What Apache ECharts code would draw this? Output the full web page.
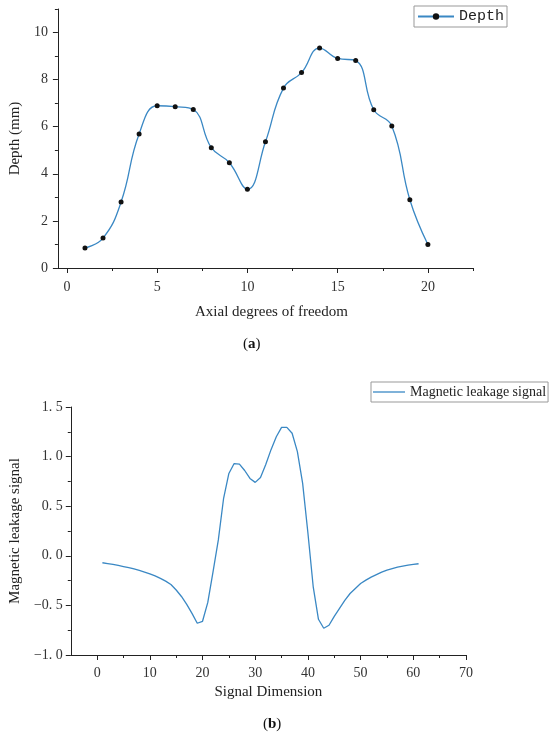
<!DOCTYPE html>
<html>
<head>
<meta charset="utf-8">
<script src="https://cdn.jsdelivr.net/npm/echarts@6/dist/echarts.min.js"></script>
<style>html,body{margin:0;padding:0;background:#fff}#c{width:550px;height:739px}</style>
</head>
<body>
<div id="c"></div>
<script>
// Panel (a): depth at each axial degree of freedom
const depthX = [1,2,3,4,5,6,7,8,9,10,11,12,13,14,15,16,17,18,19,20];
const depthY = [0.85,1.27,2.80,5.69,6.89,6.85,6.73,5.11,4.47,3.34,5.36,7.64,8.30,9.34,8.90,8.81,6.72,6.03,2.90,1.00];
const aXTicks = [0,5,10,15,20];
const aXMinor = [2.5,7.5,12.5,17.5,22.5];
const aYTicks = [0,2,4,6,8,10];
const aYMinor = [1,3,5,7,9,11];

// Panel (b): magnetic leakage signal
const sigX = [1,2,3,4,5,6,7,8,9,10,11,12,13,14,15,16,17,18,19,20,21,22,23,24,25,26,27,28,29,30,31,32,33,34,35,36,37,38,39,40,41,42,43,44,45,46,47,48,49,50,51,52,53,54,55,56,57,58,59,60,61];
const sigY = [-0.070,-0.078,-0.087,-0.097,-0.108,-0.120,-0.133,-0.148,-0.164,-0.182,-0.203,-0.227,-0.255,-0.290,-0.345,-0.410,-0.490,-0.580,-0.680,-0.660,-0.470,-0.160,0.160,0.580,0.830,0.930,0.925,0.860,0.780,0.740,0.790,0.920,1.070,1.200,1.295,1.295,1.235,1.050,0.730,0.230,-0.310,-0.640,-0.730,-0.700,-0.610,-0.530,-0.450,-0.380,-0.330,-0.280,-0.245,-0.215,-0.190,-0.165,-0.145,-0.130,-0.115,-0.105,-0.095,-0.087,-0.080];
const bXTicks = [0,10,20,30,40,50,60,70];
const bXMinor = [5,15,25,35,45,55,65];
const bYTicks = [-1,-0.5,0,0.5,1,1.5];
const bYMinor = [-0.75,-0.25,0.25,0.75,1.25];

const BLUE = '#3a88c4';
const SERIF = '"Liberation Serif","DejaVu Serif",serif';
const MONO = '"Liberation Mono","DejaVu Sans Mono",monospace';
const lineStyle = {color:'#222', width:1};

function fmtB(v){ const s = Math.abs(v).toFixed(1).replace('.', '. '); return (v<0?'\u2212':'')+s; }

function mainAxis(gridIndex, min, max, ticks, extra){
  return Object.assign({
    type:'value', gridIndex, min, max,
    axisLine:{show:true, onZero:false, lineStyle},
    axisTick:{show:true, inside:false, length:5, customValues:ticks, lineStyle},
    axisLabel:{show:true, customValues:ticks, color:'#333', fontFamily:SERIF, fontSize:14},
    splitLine:{show:false}
  }, extra);
}
function minorAxis(gridIndex, min, max, ticks, pos){
  return {
    type:'value', gridIndex, min, max, position:pos,
    axisLine:{show:false, onZero:false},
    axisTick:{show:true, inside:false, length:3, customValues:ticks, lineStyle},
    axisLabel:{show:false},
    splitLine:{show:false}
  };
}

const chart = echarts.init(document.getElementById('c'), null, {renderer:'canvas'});
chart.setOption({
  animation:false,
  backgroundColor:'#fff',
  grid:[
    {left:50, right:77, top:9, bottom:471, containLabel:false},
    {left:62, right:84, top:407, bottom:84, containLabel:false}
  ],
  legend:[
    {data:[{name:'Depth'}], left:414, top:6, orient:'horizontal',
     borderColor:'#999', borderWidth:1, padding:[3,3,3,3],
     itemWidth:36, itemHeight:8, itemGap:4,
     textStyle:{fontFamily:MONO, fontSize:15, color:'#222'}},
    {data:[{name:'Magnetic leakage signal', icon:'rect'}], left:371, top:382,
     borderColor:'#999', borderWidth:1, padding:[3,2,3,2],
     itemWidth:32, itemHeight:1.3, itemGap:3,
     textStyle:{fontFamily:SERIF, fontSize:14, color:'#222'}}
  ],
  xAxis:[
    mainAxis(0, -0.5, 22.5, aXTicks, {position:'bottom',
      name:'Axial degrees of freedom', nameLocation:'middle', nameGap:37,
      nameTextStyle:{fontFamily:SERIF, fontSize:15, color:'#222', padding:[0,0,0,12]},
      axisLabel:{show:true, customValues:aXTicks, color:'#333', fontFamily:SERIF, fontSize:14, margin:12}}),
    minorAxis(0, -0.5, 22.5, aXMinor, 'bottom'),
    mainAxis(1, -5, 70, bXTicks, {position:'bottom',
      name:'Signal Dimension', nameLocation:'middle', nameGap:30,
      nameTextStyle:{fontFamily:SERIF, fontSize:15, color:'#222'},
      axisLabel:{show:true, customValues:bXTicks, color:'#333', fontFamily:SERIF, fontSize:14, margin:11}}),
    minorAxis(1, -5, 70, bXMinor, 'bottom')
  ],
  yAxis:[
    mainAxis(0, 0, 11, aYTicks, {position:'left',
      name:'Depth (mm)', nameLocation:'middle', nameGap:29, nameRotate:90,
      nameTextStyle:{fontFamily:SERIF, fontSize:15, color:'#222'},
      axisLabel:{show:true, customValues:aYTicks, color:'#333', fontFamily:SERIF, fontSize:14, margin:10}}),
    minorAxis(0, 0, 11, aYMinor, 'left'),
    mainAxis(1, -1, 1.5, bYTicks, {position:'left',
      name:'Magnetic leakage signal', nameLocation:'middle', nameGap:42, nameRotate:90,
      nameTextStyle:{fontFamily:SERIF, fontSize:15, color:'#222'},
      axisLabel:{show:true, customValues:bYTicks, color:'#333', fontFamily:SERIF, fontSize:14, margin:8, formatter:fmtB}}),
    minorAxis(1, -1, 1.5, bYMinor, 'left')
  ],
  series:[
    {name:'Depth', type:'line', xAxisIndex:0, yAxisIndex:0,
     data:depthX.map((x,i)=>[x, depthY[i]]),
     smooth:0.45, symbol:'circle', symbolSize:5, showSymbol:true,
     lineStyle:{color:BLUE, width:1.3}, itemStyle:{color:'#111', borderWidth:0}},
    {name:'Magnetic leakage signal', type:'line', xAxisIndex:2, yAxisIndex:2,
     data:sigX.map((x,i)=>[x, sigY[i]]),
     smooth:false, symbol:'none', showSymbol:false,
     lineStyle:{color:BLUE, width:1.3}, itemStyle:{color:BLUE}}
  ],
  graphic:[
    {type:'text', left:243, top:337, style:{text:'({b|a})', fontFamily:SERIF, fontSize:15, fill:'#111',
      rich:{b:{fontWeight:'bold', fontFamily:SERIF, fontSize:15, fill:'#111'}}}},
    {type:'text', left:263, top:717, style:{text:'({b|b})', fontFamily:SERIF, fontSize:15, fill:'#111',
      rich:{b:{fontWeight:'bold', fontFamily:SERIF, fontSize:15, fill:'#111'}}}}
  ]
});
</script>
</body>
</html>
